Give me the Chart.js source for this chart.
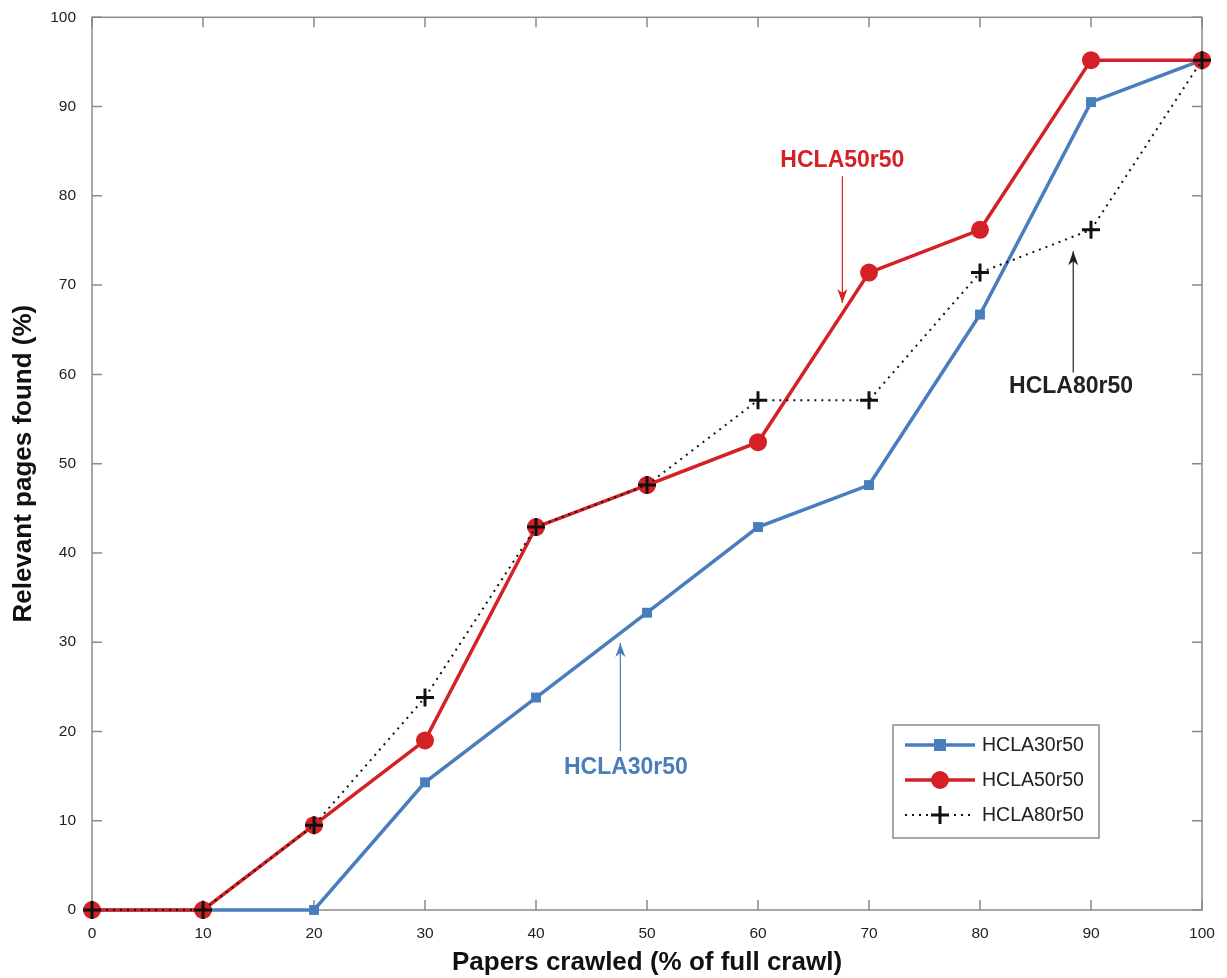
<!DOCTYPE html>
<html>
<head>
<meta charset="utf-8">
<script src="https://cdn.jsdelivr.net/npm/chart.js@4/dist/chart.umd.min.js"></script>
<style>
  html, body { margin: 0; padding: 0; background: #fff; }
  #wrap { width: 1227px; height: 978px; }
</style>
</head>
<body>
<div id="wrap"><canvas id="grafic"></canvas></div>
<script>
// Dades
const papers = [0, 10, 20, 30, 40, 50, 60, 70, 80, 90, 100];
const hcla30 = [0, 0, 0, 14.3, 23.8, 33.3, 42.9, 47.6, 66.7, 90.5, 95.2];
const hcla50 = [0, 0, 9.5, 19.0, 42.9, 47.6, 52.4, 71.4, 76.2, 95.2, 95.2];
const hcla80 = [0, 0, 9.5, 23.8, 42.9, 47.6, 57.1, 57.1, 71.4, 76.2, 95.2];
const tickVals = [0, 10, 20, 30, 40, 50, 60, 70, 80, 90, 100];

const BLUE = 'rgb(72,125,190)';
const RED = 'rgb(213,32,38)';
const BLACK = '#111';
const FONT = '"Liberation Sans", Arial, Helvetica, sans-serif';

// Etiquetes amb fletxa (coordenades en dades)
const notes = [
  { text: 'HCLA50r50', color: RED, x: 67.6, y: 83.9, ax: 67.6, y0: 82.2, y1: 68.0 },
  { text: 'HCLA30r50', color: BLUE, x: 48.1, y: 16.0, ax: 47.6, y0: 17.8, y1: 29.9 },
  { text: 'HCLA80r50', color: '#222', x: 88.2, y: 58.6, ax: 88.4, y0: 60.2, y1: 73.8 }
];

function pts(arr) { return papers.map((p, i) => ({ x: p, y: arr[i] })); }

function drawMarker(ctx, style, x, y, r, color) {
  ctx.save();
  ctx.fillStyle = color; ctx.strokeStyle = color;
  if (style === 'rect') {
    ctx.fillRect(x - r, y - r, 2 * r, 2 * r);
  } else if (style === 'circle') {
    ctx.beginPath(); ctx.arc(x, y, r, 0, Math.PI * 2); ctx.fill();
  } else {
    ctx.lineWidth = 3;
    ctx.beginPath();
    ctx.moveTo(x - r, y); ctx.lineTo(x + r, y);
    ctx.moveTo(x, y - r); ctx.lineTo(x, y + r);
    ctx.stroke();
  }
  ctx.restore();
}

// Caixa, marques cap a dins, llegenda i anotacions
const extras = {
  id: 'extras',
  beforeDatasetsDraw(chart) {
    const { ctx, chartArea: a, scales: { x, y } } = chart;
    ctx.save();
    ctx.strokeStyle = '#8a8a8a';
    ctx.lineWidth = 1.5;
    ctx.strokeRect(a.left, a.top, a.right - a.left, a.bottom - a.top);
    const t = 10;
    ctx.beginPath();
    tickVals.forEach(v => {
      const px = x.getPixelForValue(v);
      ctx.moveTo(px, a.bottom); ctx.lineTo(px, a.bottom - t);
      ctx.moveTo(px, a.top); ctx.lineTo(px, a.top + t);
      const py = y.getPixelForValue(v);
      ctx.moveTo(a.left, py); ctx.lineTo(a.left + t, py);
      ctx.moveTo(a.right, py); ctx.lineTo(a.right - t, py);
    });
    ctx.stroke();
    ctx.restore();
  },
  afterDatasetsDraw(chart) {
    const { ctx, scales: { x, y } } = chart;
    ctx.save();
    // Anotacions
    notes.forEach(n => {
      ctx.font = 'bold 23px ' + FONT;
      ctx.fillStyle = n.color;
      ctx.textAlign = 'center';
      ctx.textBaseline = 'middle';
      ctx.fillText(n.text, x.getPixelForValue(n.x), y.getPixelForValue(n.y));
      const ax = x.getPixelForValue(n.ax);
      const p0 = y.getPixelForValue(n.y0);
      const p1 = y.getPixelForValue(n.y1);
      ctx.strokeStyle = n.color;
      ctx.lineWidth = 1.2;
      ctx.beginPath(); ctx.moveTo(ax, p0); ctx.lineTo(ax, p1); ctx.stroke();
      const dir = p1 > p0 ? 1 : -1;
      ctx.beginPath();
      ctx.moveTo(ax, p1);
      ctx.lineTo(ax - 5, p1 - dir * 14);
      ctx.lineTo(ax, p1 - dir * 10);
      ctx.lineTo(ax + 5, p1 - dir * 14);
      ctx.closePath();
      ctx.fillStyle = n.color;
      ctx.fill();
    });

    // Llegenda
    const bx = 893, by = 725, bw = 206, bh = 113;
    ctx.fillStyle = '#fff';
    ctx.fillRect(bx, by, bw, bh);
    ctx.strokeStyle = '#8a8a8a';
    ctx.lineWidth = 1.5;
    ctx.strokeRect(bx, by, bw, bh);
    chart.data.datasets.forEach((ds, i) => {
      const ly = by + 20 + i * 35;
      ctx.strokeStyle = ds.borderColor;
      ctx.lineWidth = ds.borderWidth;
      ctx.setLineDash(ds.borderDash || []);
      ctx.beginPath(); ctx.moveTo(bx + 12, ly); ctx.lineTo(bx + 82, ly); ctx.stroke();
      ctx.setLineDash([]);
      drawMarker(ctx, ds.pointStyle, bx + 47, ly, ds.pointStyle === 'rect' ? 6 : ds.pointRadius, ds.pointBackgroundColor);
      ctx.fillStyle = '#222';
      ctx.font = '19.5px ' + FONT;
      ctx.textAlign = 'left';
      ctx.textBaseline = 'middle';
      ctx.fillText(ds.label, bx + 89, ly + 1);
    });
    ctx.restore();
  }
};

const ctx = document.getElementById('grafic');
new Chart(ctx, {
  type: 'line',
  data: {
    datasets: [
      {
        label: 'HCLA30r50', data: pts(hcla30), order: 3, clip: false,
        borderColor: BLUE, borderWidth: 3.5, pointStyle: 'rect', pointRadius: 7,
        pointBackgroundColor: BLUE, pointBorderColor: BLUE, pointBorderWidth: 0
      },
      {
        label: 'HCLA50r50', data: pts(hcla50), order: 2, clip: false,
        borderColor: RED, borderWidth: 3.5, pointStyle: 'circle', pointRadius: 9,
        pointBackgroundColor: RED, pointBorderColor: RED, pointBorderWidth: 0
      },
      {
        label: 'HCLA80r50', data: pts(hcla80), order: 1, clip: false,
        borderColor: BLACK, borderWidth: 2, borderDash: [2, 5], pointStyle: 'cross', pointRadius: 9,
        pointBackgroundColor: BLACK, pointBorderColor: BLACK, pointBorderWidth: 3
      }
    ]
  },
  options: {
    responsive: true,
    maintainAspectRatio: false,
    animation: false,
    layout: { padding: { top: 16, right: 25, left: 0, bottom: 0 } },
    plugins: { legend: { display: false }, tooltip: { enabled: false } },
    elements: { line: { tension: 0 } },
    scales: {
      x: {
        type: 'linear', min: 0, max: 100,
        afterFit: s => { s.height = 68; },
        border: { display: false },
        grid: { display: false },
        ticks: { stepSize: 10, color: '#222', font: { family: FONT, size: 15.5 }, padding: 6 },
        title: { display: true, text: 'Papers crawled (% of full crawl)', color: '#111',
          font: { family: FONT, size: 26, weight: 'bold' }, padding: { top: 0, bottom: 0 } }
      },
      y: {
        type: 'linear', min: 0, max: 100,
        afterFit: s => { s.width = 92; },
        border: { display: false },
        grid: { display: false },
        ticks: { stepSize: 10, color: '#222', font: { family: FONT, size: 15.5 }, padding: 8 },
        title: { display: true, text: 'Relevant pages found (%)', color: '#111',
          font: { family: FONT, size: 26, weight: 'bold' }, padding: { top: 8, bottom: 0 } }
      }
    }
  },
  plugins: [extras]
});
</script>
</body>
</html>
